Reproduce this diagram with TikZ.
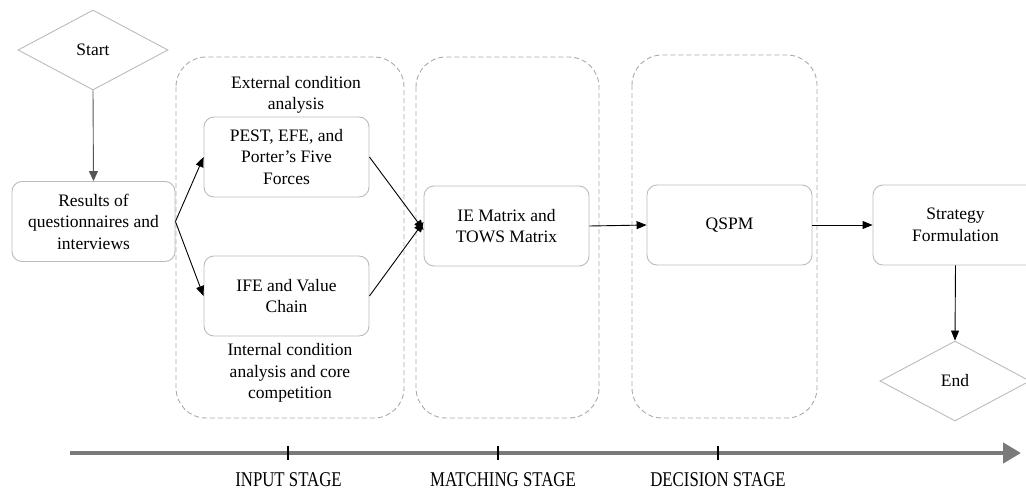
\documentclass[tikz,border=0pt]{standalone}
\usepackage{fontspec}
\setmainfont{Liberation Serif}
\newfontfamily\labelfont[FakeStretch=0.8]{Liberation Serif}
\usetikzlibrary{shapes.geometric,arrows.meta}
\definecolor{boxgray}{HTML}{BBBBBB}
\definecolor{dashgray}{HTML}{AAAAAA}
\definecolor{linegray}{HTML}{7A7A7A}
\definecolor{startgray}{HTML}{555555}
\tikzset{
  procbox/.style={draw=boxgray, line width=0.9pt, rounded corners=10pt, minimum width=165pt, minimum height=80pt, align=center, font=\fontsize{17.5}{21.5}\selectfont, inner sep=2pt},
  termdia/.style={draw=boxgray, line width=0.9pt, diamond, aspect=1.9, minimum width=150pt, minimum height=80pt, inner sep=0pt, font=\fontsize{17.5}{21}\selectfont},
  stagebox/.style={draw=dashgray, dashed, dash pattern=on 5pt off 3pt, line width=0.9pt, rounded corners=30pt},
  flow/.style={-{Triangle[length=10pt,width=8pt]}, line width=0.9pt, black},
  caption/.style={align=center, font=\fontsize{17.5}{21.5}\selectfont},
  stagelabel/.style={font=\labelfont\fontsize{21}{23}\selectfont, anchor=base, inner sep=0pt},
  tick/.style={line width=2.6pt, black}
}
\begin{document}
\begin{tikzpicture}[x=1pt,y=-1pt]
\useasboundingbox (0,0) rectangle (1026,490);
\clip (0,0) rectangle (1026,490);
% stage boxes
\draw[stagebox] (176,57) rectangle (404,418);
\draw[stagebox] (416,57) rectangle (599,418);
\draw[stagebox] (632,55) rectangle (817,418);
% nodes
\node[termdia] (start) at (93,50) {Start};
\node[procbox, minimum width=163pt] (res) at (93.5,221.5) {Results of\\questionnaires and\\interviews};
\node[procbox] (pest) at (286.5,157) {PEST, EFE, and\\Porter's Five\\Forces};
\node[procbox] (ife) at (286.5,296) {IFE and Value\\Chain};
\node[procbox] (ie) at (506.5,226) {IE Matrix and\\TOWS Matrix};
\node[procbox] (qspm) at (729.5,225) {QSPM};
\node[procbox] (strat) at (955.5,225) {Strategy\\Formulation};
\node[termdia] (end) at (955,381) {End};
\node[caption] (ext) at (296,95) {External condition\\analysis};
\node[caption] (int) at (290,373) {Internal condition\\analysis and core\\competition};
% connectors
\draw[flow, draw=startgray, -{Triangle[length=10pt,width=9pt,fill=startgray]}] (start.south) -- (res.north);
\draw[flow] (res.east) -- (pest.west);
\draw[flow] (res.east) -- (ife.west);
\draw[flow] (pest.east) -- ([yshift=-4pt]ie.west);
\draw[flow] (ife.east) -- ([yshift=4pt]ie.west);
\draw[flow] (ie.east) -- (qspm.west);
\draw[flow] (qspm.east) -- (strat.west);
\draw[flow] (strat.south) -- (end.north);
% timeline
\coordinate (tl0) at (70,453);
\coordinate (tl1) at (1021,453);
\draw[linegray, line width=4.5pt, -{Triangle[length=18pt,width=20pt]}] (tl0) -- (tl1);
\coordinate (t1) at (288,453);
\coordinate (t2) at (498,453);
\coordinate (t3) at (718,453);
\draw[tick] ([yshift=-7pt]t1) -- ([yshift=7pt]t1);
\draw[tick] ([yshift=-7pt]t2) -- ([yshift=7pt]t2);
\draw[tick] ([yshift=-7pt]t3) -- ([yshift=7pt]t3);
\node[stagelabel] (s1) at (288.5,486) {INPUT STAGE};
\node[stagelabel] (s2) at (503,486) {MATCHING STAGE};
\node[stagelabel] (s3) at (718,486) {DECISION STAGE};
\end{tikzpicture}
\end{document}
